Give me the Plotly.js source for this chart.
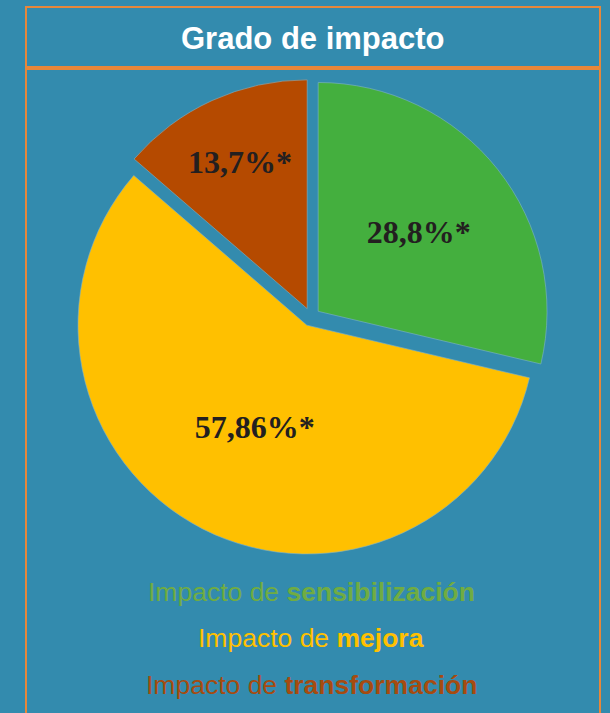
<!DOCTYPE html>
<html><head><meta charset="utf-8">
<script src="https://cdn.plot.ly/plotly-3.0.1.min.js"></script>
<style>html,body{margin:0;padding:0;background:#338bae;}#chart{width:610px;height:713px;}</style>
</head><body><div id="chart"></div>
<script>
const titleText = 'Grado de impacto';
const categories = ['sensibilización', 'mejora', 'transformación'];
const values = [28.8, 57.86, 13.7];
const sliceColors = ['#44af3e', '#ffc000', '#b54a00'];
const legendColors = ['#70ac42', '#ffc000', '#a64b10'];
const labelPrefix = 'Impacto de ';

const W = 610, H = 713;
const px = x => x / W;
const py = y => 1 - y / H;

const sliceText = values.map(v => String(v).replace('.', ',') + '%*');

const trace = {
  type: 'pie',
  labels: categories,
  values: values,
  text: sliceText,
  textinfo: 'text',
  textposition: 'inside',
  insidetextorientation: 'horizontal',
  sort: false,
  direction: 'clockwise',
  rotation: 0,
  pull: [0.04, 0.04, 0.04],
  marker: {colors: sliceColors, line: {color: '#7fb3c9', width: 0.6}},
  insidetextfont: {family: '"Liberation Serif", "DejaVu Serif", serif', size: 32, color: '#231f20', weight: 'bold'},
  hoverinfo: 'skip',
  showlegend: false,
  domain: {x: [px(73), px(549)], y: [py(555), py(79)]}
};

const legendY = [592, 638, 685];
const annotations = categories.map((c, i) => ({
  xref: 'paper', yref: 'paper', x: px(311), y: py(legendY[i]),
  xanchor: 'center', yanchor: 'middle', showarrow: false,
  text: labelPrefix + '<b>' + c + '</b>',
  font: {family: '"Liberation Sans", Arial, sans-serif', size: 26.5, color: legendColors[i]}
}));
annotations.push({
  xref: 'paper', yref: 'paper', x: px(313), y: py(39),
  xanchor: 'center', yanchor: 'middle', showarrow: false,
  text: '<b>' + titleText + '</b>',
  font: {family: '"Liberation Sans", Arial, sans-serif', size: 31, color: '#ffffff'}
});

const frameColor = '#e8873a';
const shapes = [
  {type: 'rect', xref: 'paper', yref: 'paper', x0: px(26), x1: px(600), y0: py(7), y1: py(67), line: {color: frameColor, width: 2}},
  {type: 'rect', xref: 'paper', yref: 'paper', x0: px(26), x1: px(600), y0: py(69), y1: py(730), line: {color: frameColor, width: 2}}
];

const layout = {
  width: W, height: H,
  margin: {l: 0, r: 0, t: 0, b: 0},
  paper_bgcolor: '#338bae',
  plot_bgcolor: '#338bae',
  showlegend: false,
  annotations: annotations,
  shapes: shapes
};

Plotly.newPlot('chart', [trace], layout, {displayModeBar: false, staticPlot: true});
</script></body></html>
